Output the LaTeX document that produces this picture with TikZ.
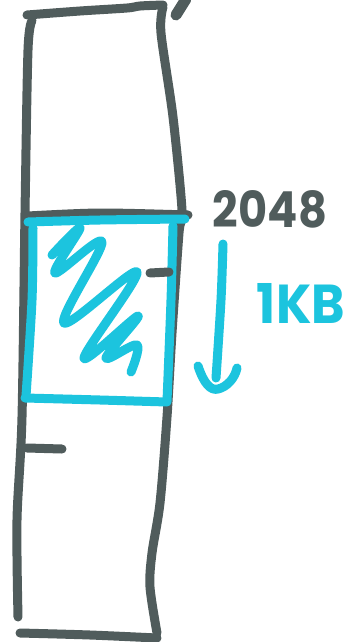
\documentclass[tikz,border=0pt]{standalone}
\usepackage{fontspec}
\usepackage{graphicx}
\setmainfont{Poppins}
\definecolor{pengray}{HTML}{505C5C}
\definecolor{pencyan}{HTML}{1CC4DE}
\tikzset{
  grayink/.style={draw=pengray, line width=9pt, line cap=round, line join=round},
  cyanink/.style={draw=pencyan, line width=9pt, line cap=round, line join=round},
}
\begin{document}
\begin{tikzpicture}[x=1pt,y=-1pt]
\useasboundingbox[fill=white] (0,0) rectangle (351,642);
% outer column
\draw[grayink] plot[smooth] coordinates {(27,15) (80,11) (127,8) (140,6) (163,5)};
\draw[grayink] plot[smooth] coordinates {(163,7) (161,33) (173,117) (182,210) (179,233) (172,333) (167,417) (160,503) (152,553) (150,587) (157,633)};
\draw[grayink] plot[smooth] coordinates {(32,21) (28,50) (25,213) (22,417) (17,520) (18,617)};
\draw[grayink] plot[smooth] coordinates {(20,633) (90,635) (157,638)};
\draw[grayink] plot[smooth] coordinates {(28,216) (100,213) (188,215)};
\draw[grayink, line width=11pt] (186,-1) -- (176,15);
\draw[grayink] (27,448) -- (62,449);
% cyan box
\draw[cyanink] plot[smooth] coordinates {(28,222) (100,220) (185,219)};
\draw[cyanink] plot[smooth] coordinates {(173,226) (171,300) (167,401)};
\draw[cyanink] plot[smooth] coordinates {(33,228) (32,300) (26,396)};
\draw[cyanink] plot[smooth] coordinates {(25,398) (100,400) (167,402)};
% zigzag
\draw[cyanink] plot[smooth, tension=0.6] coordinates {(52,255) (80,228) (55,273) (102,242) (64,323) (137,272) (84,358) (138,316) (106,358) (137,345) (131,372)};
% tick inside
\draw[grayink] (150,273) -- (169,272);
% arrow
\draw[cyanink] plot[smooth] coordinates {(223,244) (221,300) (216,378)};
\draw[cyanink] (198,366) .. controls (204,384) and (211,391) .. (218,389) .. controls (227,387) and (235,378) .. (237,368);
% labels
\node[text=pengray, inner sep=0pt] (lbl2048) at (270,209) {\resizebox{114pt}{37pt}{\bfseries 2048}};
\node[text=pencyan, inner sep=0pt] (lbl1kb) at (301,303) {\resizebox{88pt}{40pt}{\bfseries 1KB}};
\end{tikzpicture}
\end{document}
